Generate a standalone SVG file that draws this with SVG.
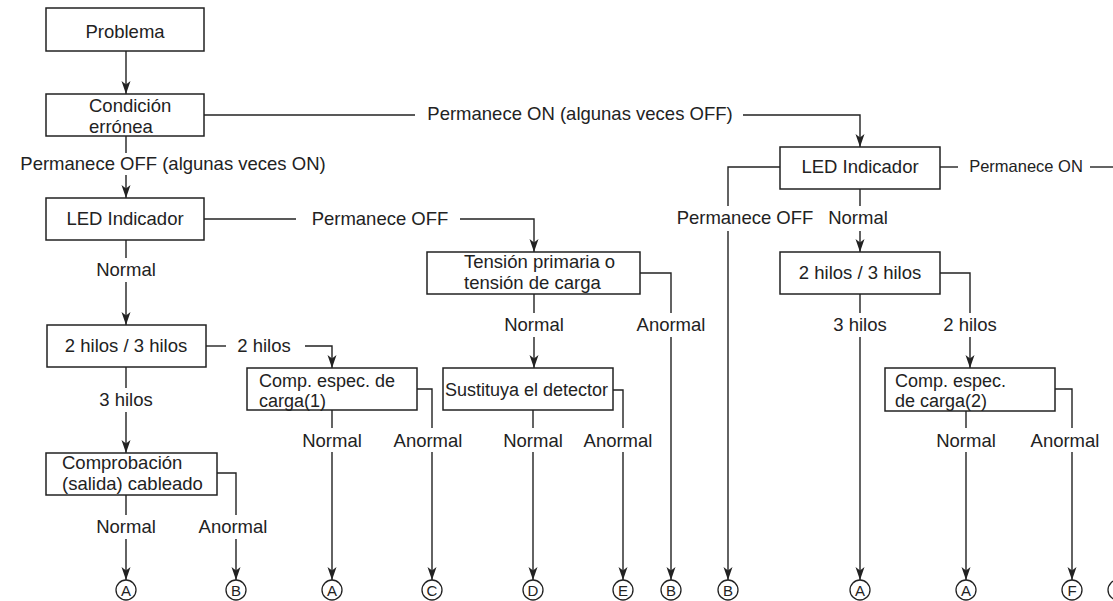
<svg xmlns="http://www.w3.org/2000/svg" width="1113" height="601" viewBox="0 0 1113 601">
<defs>
<marker id="ah" markerUnits="userSpaceOnUse" markerWidth="16" markerHeight="12" refX="13" refY="5" orient="auto">
<path d="M13,5 L0,0.5 L3.5,5 L0,9.5 Z" fill="#222"/>
</marker>
<style>
.box{fill:#fff;stroke:#222;stroke-width:1.5}
.ln{fill:none;stroke:#222;stroke-width:1.4}
.ar{fill:none;stroke:#222;stroke-width:1.4;marker-end:url(#ah)}
text{font-family:"Liberation Sans",Arial,Helvetica,sans-serif;font-size:18.5px;fill:#222}
.c{text-anchor:middle}
.sm{font-size:16.5px}
.tt{font-size:18px}
.cir{fill:#fff;stroke:#222;stroke-width:1.3}
.lt{font-size:15px;text-anchor:middle}
</style>
</defs>
<rect width="1113" height="601" fill="#fff"/>

<g id="connectors">
<path class="ar" d="M126,51 V94"/>
<path class="ln" d="M204,115 H415"/>
<path class="ar" d="M743,115 H860 V147"/>
<path class="ln" d="M126,136 V153"/>
<path class="ar" d="M126,175 V198"/>
<path class="ln" d="M204,219 H296"/>
<path class="ar" d="M460,219 H534 V252"/>
<path class="ln" d="M126,240 V258"/>
<path class="ar" d="M126,282 V325"/>
<path class="ln" d="M206,346 H226"/>
<path class="ar" d="M305,346 H332 V368"/>
<path class="ln" d="M126,367 V388"/>
<path class="ar" d="M126,412 V453"/>
<path class="ln" d="M126,495 V515"/>
<path class="ar" d="M126,539 V580"/>
<path class="ln" d="M217,473 H236 V515"/>
<path class="ar" d="M236,539 V580"/>
<path class="ln" d="M332,410 V428"/>
<path class="ar" d="M332,452 V580"/>
<path class="ln" d="M417,389 H432 V428"/>
<path class="ar" d="M432,452 V580"/>
<path class="ln" d="M534,294 V313"/>
<path class="ar" d="M534,337 V368"/>
<path class="ln" d="M640,273 H671 V313"/>
<path class="ar" d="M671,337 V580"/>
<path class="ln" d="M533,410 V428"/>
<path class="ar" d="M533,452 V580"/>
<path class="ln" d="M613,390 H623 V428"/>
<path class="ar" d="M623,452 V580"/>
<path class="ln" d="M780,167 H728 V206"/>
<path class="ar" d="M728,231 V580"/>
<path class="ln" d="M940,167 H958"/>
<path class="ln" d="M1090,167 H1113"/>
<path class="ln" d="M860,189 V206"/>
<path class="ar" d="M860,231 V252"/>
<path class="ln" d="M860,294 V313"/>
<path class="ar" d="M860,337 V580"/>
<path class="ln" d="M940,273 H970 V313"/>
<path class="ar" d="M970,337 V368"/>
<path class="ln" d="M966,411 V428"/>
<path class="ar" d="M966,452 V580"/>
<path class="ln" d="M1055,389 H1072 V428"/>
<path class="ar" d="M1072,452 V580"/>

<text class="c" x="580" y="120">Permanece ON (algunas veces OFF)</text>
<text class="c" x="173" y="170">Permanece OFF (algunas veces ON)</text>
<text class="c" x="380" y="225">Permanece OFF</text>
<text class="c" x="126" y="276">Normal</text>
<text class="c" x="264" y="352">2 hilos</text>
<text class="c" x="126" y="406">3 hilos</text>
<text class="c" x="126" y="533">Normal</text>
<text class="c" x="233" y="533">Anormal</text>
<text class="c" x="332" y="447">Normal</text>
<text class="c" x="428" y="447">Anormal</text>
<text class="c" x="534" y="331">Normal</text>
<text class="c" x="671" y="331">Anormal</text>
<text class="c" x="533" y="447">Normal</text>
<text class="c" x="618" y="447">Anormal</text>
<text class="c" x="745" y="224">Permanece OFF</text>
<text class="c" x="858" y="224">Normal</text>
<text class="c sm" x="1026" y="172">Permanece ON</text>
<text class="c" x="860" y="331">3 hilos</text>
<text class="c" x="970" y="331">2 hilos</text>
<text class="c" x="966" y="447">Normal</text>
<text class="c" x="1065" y="447">Anormal</text>
</g>

<g id="n-problema"><rect class="box" x="46" y="8" width="158" height="43"/><text class="c" x="125" y="38">Problema</text></g>
<g id="n-condicion"><rect class="box" x="46" y="94" width="158" height="42"/><text x="89" y="112">Condición<tspan x="89" y="133">errónea</tspan></text></g>
<g id="n-led1"><rect class="box" x="46" y="198" width="158" height="42"/><text class="c" x="125" y="225">LED Indicador</text></g>
<g id="n-hilos1"><rect class="box" x="47" y="325" width="159" height="42"/><text class="c" x="126" y="352">2 hilos / 3 hilos</text></g>
<g id="n-comprob"><rect class="box" x="46" y="453" width="171" height="42"/><text x="62" y="469">Comprobación<tspan x="62" y="489.5">(salida) cableado</tspan></text></g>
<g id="n-comp1"><rect class="box" x="247" y="368" width="170" height="42"/><text class="tt" x="259" y="386.5">Comp. espec. de<tspan x="259" y="406.8">carga(1)</tspan></text></g>
<g id="n-tension"><rect class="box" x="427" y="252" width="213" height="42"/><text x="464" y="268">Tensión primaria o<tspan x="464" y="288.5">tensión de carga</tspan></text></g>
<g id="n-sustituya"><rect class="box" x="443" y="368" width="170" height="42"/><text x="445" y="396" style="font-size:18px">Sustituya el detector</text></g>
<g id="n-led2"><rect class="box" x="780" y="147" width="160" height="42"/><text class="c" x="860" y="173">LED Indicador</text></g>
<g id="n-hilos2"><rect class="box" x="780" y="252" width="160" height="42"/><text class="c" x="860" y="279">2 hilos / 3 hilos</text></g>
<g id="n-comp2"><rect class="box" x="885" y="368" width="170" height="43"/><text class="tt" x="895" y="386.5">Comp. espec.<tspan x="895" y="406.8">de carga(2)</tspan></text></g>

<g id="terminals">
<circle class="cir" cx="126" cy="590" r="10"/><text class="lt" x="126" y="595.5">A</text>
<circle class="cir" cx="236" cy="590" r="10"/><text class="lt" x="236" y="595.5">B</text>
<circle class="cir" cx="332" cy="590" r="10"/><text class="lt" x="332" y="595.5">A</text>
<circle class="cir" cx="432" cy="590" r="10"/><text class="lt" x="432" y="595.5">C</text>
<circle class="cir" cx="533" cy="590" r="10"/><text class="lt" x="533" y="595.5">D</text>
<circle class="cir" cx="623" cy="590" r="10"/><text class="lt" x="623" y="595.5">E</text>
<circle class="cir" cx="671" cy="590" r="10"/><text class="lt" x="671" y="595.5">B</text>
<circle class="cir" cx="728" cy="590" r="10"/><text class="lt" x="728" y="595.5">B</text>
<circle class="cir" cx="860" cy="590" r="10"/><text class="lt" x="860" y="595.5">A</text>
<circle class="cir" cx="966" cy="590" r="10"/><text class="lt" x="966" y="595.5">A</text>
<circle class="cir" cx="1072" cy="590" r="10"/><text class="lt" x="1072" y="595.5">F</text>
<circle class="cir" cx="1118" cy="590" r="10"/>
</g>
</svg>
